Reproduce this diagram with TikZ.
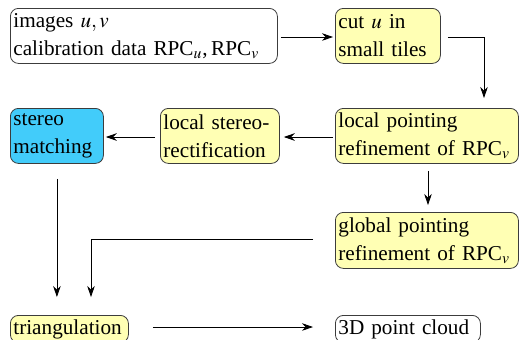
\documentclass[tikz,border=0pt]{standalone}
\usepackage{mathptmx}
\usepackage[no-math]{fontspec}
\setmainfont{Liberation Serif}
\usetikzlibrary{arrows.meta,positioning}

\definecolor{boxyellow}{RGB}{255,255,180}
\definecolor{boxcyan}{RGB}{66,204,250}
\definecolor{boxline}{RGB}{60,60,60}

\tikzset{
    stage/.style={draw=boxline, rounded corners=4pt, inner ysep=2pt, inner xsep=1.5pt,
        anchor=north west, align=left, fill=boxyellow,
        font=\fontsize{10.6}{14}\selectfont},
    datum/.style={stage, fill=white},
    flow/.style={-{Stealth[length=5.5pt,width=3.8pt]}, thin}
}

\begin{document}
\begin{tikzpicture}[x=0.5pt,y=-0.5pt]
    \useasboundingbox (0,0) rectangle (519,339);
    \node[datum, text width=130.5pt, minimum height=27.5pt] (input) at (10,8)
        {images $u,v$\\calibration data RPC$_u$,\,RPC$_v$};
    \node[stage, text width=49.5pt, minimum height=27.5pt] (tiles) at (335,8)
        {cut $u$ in\\small tiles};
    \node[stage, text width=88.5pt, minimum height=27.5pt] (local ref) at (335,108)
        {local pointing\\refinement of RPC$_v$};
    \node[stage, text width=56.5pt, minimum height=27.5pt] (rectif) at (160,108)
        {local stereo-\\rectification};
    \node[stage, fill=boxcyan, text width=43.5pt, minimum height=27.5pt] (matching) at (10,108)
        {stereo\\matching};
    \node[stage, text width=88.5pt, minimum height=28pt] (global ref) at (335,212)
        {global pointing\\refinement of RPC$_v$};
    \node[stage, text width=56pt] (triang) at (10,315) {triangulation};
    \node[datum, text width=69.5pt] (cloud) at (335,315) {3D point cloud};
    % bends of the long connectors
    \coordinate (bend1) at (484,37);
    \coordinate (bend2) at (91,239);
    \draw [flow, shorten <=1.5pt, shorten >=1pt] (input.east |- 0,37) -- (tiles.west |- 0,37);
    \draw [flow, shorten <=3.5pt, shorten >=5pt] (tiles.east |- bend1) -| (bend1 |- local ref.north);
    \draw [flow, shorten <=1pt, shorten >=2pt] (local ref.west |- 0,137) -- (rectif.east |- 0,137);
    \draw [flow, shorten <=2.5pt, shorten >=1pt] (rectif.west |- 0,137) -- (matching.east |- 0,137);
    \draw [flow, shorten <=3.5pt, shorten >=3.5pt] (local ref.south -| 428,0) -- (global ref.north -| 428,0);
    \draw [flow, shorten <=11pt, shorten >=9pt] (global ref.west |- bend2) -| (bend2 |- triang.north);
    \draw [flow, shorten <=7.5pt, shorten >=9pt] (matching.south) -- (matching.south |- triang.north);
    \draw [flow, shorten <=12pt, shorten >=11pt] (triang.east |- 0,327) -- (cloud.west |- 0,327);
\end{tikzpicture}
\end{document}
